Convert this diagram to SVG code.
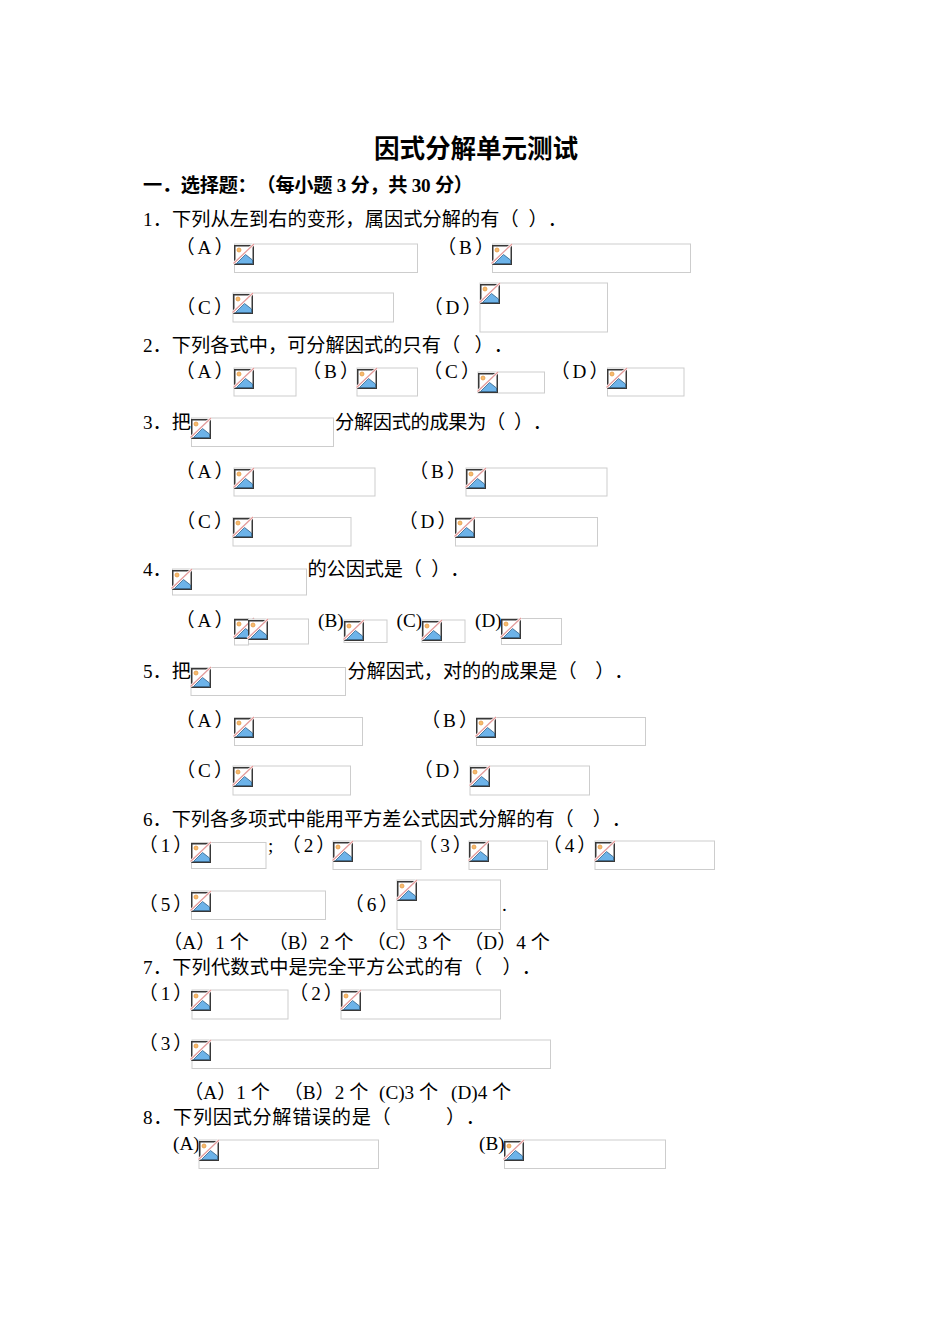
<svg xmlns="http://www.w3.org/2000/svg" width="950" height="1344" viewBox="0 0 950 1344">
<style>
.t{font-family:"Liberation Serif","Noto Sans CJK SC",serif;font-size:19.2px;fill:#000;white-space:pre;text-spacing-trim:space-all}
.b{font-weight:bold}
.m{text-anchor:middle}
.L{text-anchor:middle;letter-spacing:3px}
.bx{fill:#fff;stroke:#cdcdcd;stroke-width:1}
</style>
<defs>
<symbol id="ic" viewBox="0 0 20 20" width="20" height="20" overflow="visible">
<rect x="0.75" y="0.75" width="18.5" height="18.5" fill="#fff" stroke="#383838" stroke-width="1.5"/>
<circle cx="5" cy="5" r="2" fill="#f7bb6c" stroke="#e59b47" stroke-width="0.8"/>
<path d="M2.5,18.5 L11.5,9.5 L18.5,15 V18.5 Z" fill="#6db3e9" stroke="#2f5f86" stroke-width="0.8"/>
<line x1="-0.5" y1="18.5" x2="20" y2="-1" stroke="#fff" stroke-width="2.6"/>
<line x1="-0.5" y1="18.5" x2="20" y2="-1" stroke="#e39b9b" stroke-width="1.3"/>
</symbol>
</defs>
<rect width="950" height="1344" fill="#fff"/>

<g id="title"><text class="t b m" x="476" y="158" style="font-size:25.6px" textLength="204">因式分解单元测试</text></g>
<g id="heading"><text class="t b" x="143" y="192" textLength="330">一．选择题：（每小题 3 分，共 30 分）</text></g>

<g id="q1">
<text class="t" x="143" y="226" textLength="424">1．下列从左到右的变形，属因式分解的有（  ）．</text>
<g id="q1-a"><text class="t L" x="206" y="254">（A）</text><rect class="bx" x="234.5" y="244" width="183" height="28.5"/><use href="#ic" x="234" y="245"/></g>
<g id="q1-b"><text class="t L" x="467" y="254">（B）</text><rect class="bx" x="492.5" y="244" width="198" height="28.5"/><use href="#ic" x="492" y="245"/></g>
<g id="q1-c"><text class="t L" x="206" y="314">（C）</text><rect class="bx" x="233" y="293" width="160.5" height="29"/><use href="#ic" x="233" y="294"/></g>
<g id="q1-d"><text class="t L" x="454" y="314">（D）</text><rect class="bx" x="480" y="283" width="127.5" height="49"/><use href="#ic" x="480" y="284"/></g>
</g>

<g id="q2">
<text class="t" x="143" y="352" textLength="370">2．下列各式中，可分解因式的只有（   ）．</text>
<g id="q2-a"><text class="t L" x="206" y="378">（A）</text><rect class="bx" x="234" y="368" width="62" height="28"/><use href="#ic" x="234" y="369"/></g>
<g id="q2-b"><text class="t L" x="332" y="378">（B）</text><rect class="bx" x="357" y="368" width="60.5" height="28"/><use href="#ic" x="357" y="369"/></g>
<g id="q2-c"><text class="t L" x="453" y="378">（C）</text><rect class="bx" x="478" y="372" width="66.5" height="21"/><use href="#ic" x="478" y="373"/></g>
<g id="q2-d"><text class="t L" x="581" y="378">（D）</text><rect class="bx" x="607.5" y="368" width="76.5" height="28"/><use href="#ic" x="607" y="369"/></g>
</g>

<g id="q3">
<text class="t" x="143" y="429">3．把</text>
<rect class="bx" x="191.5" y="418" width="142" height="28.5"/><use href="#ic" x="191" y="419"/>
<text class="t" x="335" y="429" textLength="217">分解因式的成果为（  ）．</text>
<g id="q3-a"><text class="t L" x="206" y="478">（A）</text><rect class="bx" x="234" y="468" width="141" height="28"/><use href="#ic" x="234" y="469"/></g>
<g id="q3-b"><text class="t L" x="439" y="478">（B）</text><rect class="bx" x="466" y="468" width="141" height="28"/><use href="#ic" x="466" y="469"/></g>
<g id="q3-c"><text class="t L" x="206" y="528">（C）</text><rect class="bx" x="233" y="517.5" width="118" height="28.5"/><use href="#ic" x="233" y="518"/></g>
<g id="q3-d"><text class="t L" x="429" y="528">（D）</text><rect class="bx" x="455.5" y="517.5" width="142" height="28.5"/><use href="#ic" x="455" y="518"/></g>
</g>

<g id="q4">
<text class="t" x="143" y="576">4．</text>
<rect class="bx" x="172.5" y="569" width="134" height="26"/><use href="#ic" x="172" y="570"/>
<text class="t" x="307.5" y="576" textLength="162">的公因式是（  ）．</text>
<g id="q4-a"><text class="t L" x="206" y="627">（A）</text>
<rect class="bx" x="234.5" y="618.5" width="14" height="26.5"/><use href="#ic" x="234" y="619"/>
<rect class="bx" x="248.5" y="619" width="60" height="25"/><use href="#ic" x="248" y="620"/></g>
<g id="q4-b"><text class="t" x="318" y="627">(B)</text><rect class="bx" x="344" y="620" width="43" height="22.5"/><use href="#ic" x="344" y="621"/></g>
<g id="q4-c"><text class="t" x="396.5" y="627">(C)</text><rect class="bx" x="422" y="620" width="43" height="22.5"/><use href="#ic" x="422" y="621"/></g>
<g id="q4-d"><text class="t" x="475" y="627">(D)</text><rect class="bx" x="501.5" y="618.5" width="60" height="26"/><use href="#ic" x="501" y="619"/></g>
</g>

<g id="q5">
<text class="t" x="143" y="678">5．把</text>
<rect class="bx" x="191" y="667.5" width="154.5" height="28"/><use href="#ic" x="191" y="668"/>
<text class="t" x="347.5" y="678" textLength="286">分解因式，对的的成果是（    ）．</text>
<g id="q5-a"><text class="t L" x="206" y="727">（A）</text><rect class="bx" x="234.5" y="717.5" width="128" height="28"/><use href="#ic" x="234" y="718"/></g>
<g id="q5-b"><text class="t L" x="451" y="727">（B）</text><rect class="bx" x="476.5" y="717.5" width="169" height="28"/><use href="#ic" x="476" y="718"/></g>
<g id="q5-c"><text class="t L" x="206" y="777">（C）</text><rect class="bx" x="233" y="766" width="117.5" height="29"/><use href="#ic" x="233" y="767"/></g>
<g id="q5-d"><text class="t L" x="444" y="777">（D）</text><rect class="bx" x="470" y="766" width="119.5" height="29"/><use href="#ic" x="470" y="767"/></g>
</g>

<g id="q6">
<text class="t" x="143" y="826" textLength="488">6．下列各多项式中能用平方差公式因式分解的有（    ）．</text>
<g id="q6-1"><text class="t L" x="167" y="852">（1）</text><rect class="bx" x="191.5" y="842.5" width="74.5" height="26"/><use href="#ic" x="191" y="843"/><text class="t" x="268" y="852">;</text></g>
<g id="q6-2"><text class="t L" x="310" y="852">（2）</text><rect class="bx" x="333" y="841" width="88" height="28.5"/><use href="#ic" x="333" y="842"/></g>
<g id="q6-3"><text class="t L" x="446.5" y="852">（3）</text><rect class="bx" x="469" y="841" width="78.5" height="28.5"/><use href="#ic" x="469" y="842"/></g>
<g id="q6-4"><text class="t L" x="571" y="852">（4）</text><rect class="bx" x="595" y="841" width="119.5" height="28.5"/><use href="#ic" x="595" y="842"/></g>
<g id="q6-5"><text class="t L" x="167" y="911">（5）</text><rect class="bx" x="191.5" y="891" width="134" height="28.5"/><use href="#ic" x="191" y="892"/></g>
<g id="q6-6"><text class="t L" x="373" y="911">（6）</text><rect class="bx" x="397" y="880" width="103.5" height="49.5"/><use href="#ic" x="397" y="881"/><text class="t" x="502" y="911">.</text></g>
<g id="q6-opt">
<text class="t m" x="206" y="949">（A）1 个</text>
<text class="t m" x="311" y="949">（B）2 个</text>
<text class="t m" x="409" y="949">（C）3 个</text>
<text class="t m" x="507" y="949">（D）4 个</text>
</g>
</g>

<g id="q7">
<text class="t" x="143" y="974" textLength="398">7．下列代数式中是完全平方公式的有（    ）．</text>
<g id="q7-1"><text class="t L" x="167" y="1000">（1）</text><rect class="bx" x="192" y="990" width="96" height="29"/><use href="#ic" x="191" y="991"/></g>
<g id="q7-2"><text class="t L" x="317.5" y="1000">（2）</text><rect class="bx" x="341" y="990" width="159.5" height="29"/><use href="#ic" x="341" y="991"/></g>
<g id="q7-3"><text class="t L" x="167" y="1050">（3）</text><rect class="bx" x="192" y="1040" width="358.5" height="28.5"/><use href="#ic" x="191" y="1041"/></g>
<g id="q7-opt">
<text class="t m" x="227" y="1099">（A）1 个</text>
<text class="t m" x="326" y="1099">（B）2 个</text>
<text class="t" x="379" y="1099">(C)3 个</text>
<text class="t" x="451" y="1099">(D)4 个</text>
</g>
</g>

<g id="q8">
<text class="t" x="143" y="1124" textLength="342">8．下列因式分解错误的是（          ）．</text>
<g id="q8-a"><text class="t" x="173" y="1150">(A)</text><rect class="bx" x="199" y="1140" width="179.5" height="28.5"/><use href="#ic" x="199" y="1141"/></g>
<g id="q8-b"><text class="t" x="479" y="1150">(B)</text><rect class="bx" x="504.5" y="1140" width="161" height="28.5"/><use href="#ic" x="504" y="1141"/></g>
</g>
</svg>
